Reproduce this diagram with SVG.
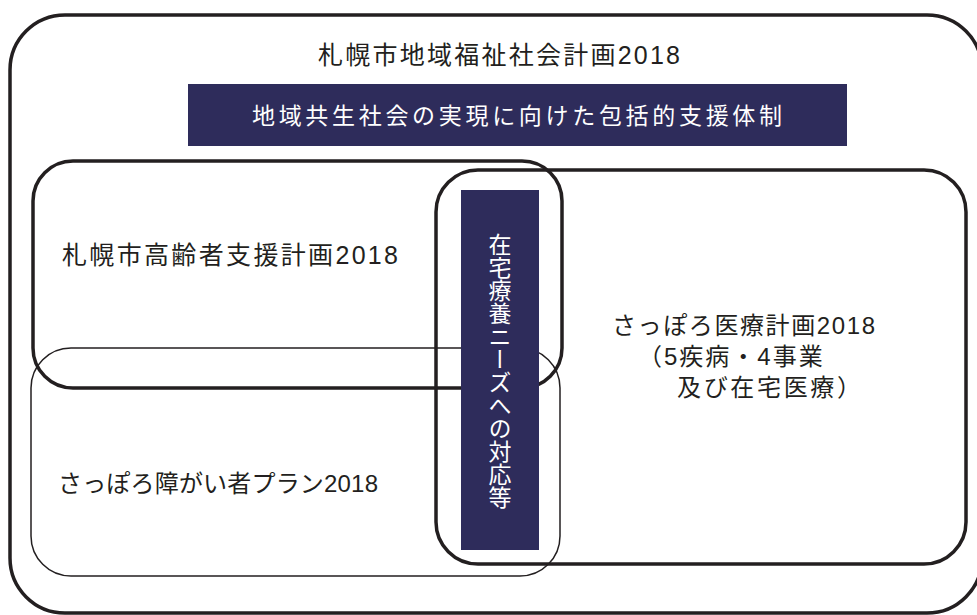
<svg xmlns="http://www.w3.org/2000/svg" width="977" height="615" viewBox="0 0 977 615">
<style>
.frame{fill:none;stroke:#231f20;stroke-width:3.5}
.thin{fill:none;stroke:#231f20;stroke-width:1.5}
.band{fill:#2e2c5b}
.t{font-family:"Liberation Sans","Noto Sans CJK JP",sans-serif;font-size:24px;fill:#231f20}
.w{font-family:"Noto Sans CJK JP","Liberation Sans",sans-serif;font-size:23px;fill:#ffffff}
</style>
<rect width="977" height="615" fill="#ffffff"/>
<g id="outer">
<rect class="frame" x="10" y="15" width="972" height="598" rx="55"/>
<text class="t" x="318" y="64" textLength="362" lengthAdjust="spacing" style="font-size:25px">札幌市地域福祉社会計画2018</text>
</g>
<g id="banner">
<rect class="band" x="188" y="84" width="659" height="62"/>
<text class="w" x="252" y="124" textLength="530" lengthAdjust="spacing">地域共生社会の実現に向けた包括的支援体制</text>
</g>
<g id="elderly">
<rect class="frame" x="33" y="161" width="529" height="227" rx="40"/>
<text class="t" x="62" y="264" textLength="336" lengthAdjust="spacing" style="font-size:25px">札幌市高齢者支援計画2018</text>
</g>
<g id="disability">
<rect class="thin" x="31" y="348" width="529" height="228" rx="40"/>
<text class="t" x="58" y="492" textLength="320" lengthAdjust="spacing">さっぽろ障がい者プラン2018</text>
</g>
<g id="medical">
<rect class="frame" x="436" y="170" width="530" height="394" rx="42"/>
<text class="t" x="612" y="334" textLength="263" lengthAdjust="spacing">さっぽろ医療計画2018</text>
<text class="t" x="638" y="365" style="letter-spacing:2px">（5疾病・4事業</text>
<text class="t" x="677" y="396" textLength="184" lengthAdjust="spacing">及び在宅医療）</text>
</g>
<g id="homecare">
<rect class="band" x="461" y="190" width="78" height="360"/>
<text class="w" x="500" y="371" writing-mode="vertical-rl" text-anchor="middle" style="text-orientation:upright;font-size:23px">在宅療養ニーズへの対応等</text>
</g>
<g id="connectors"></g>
</svg>
